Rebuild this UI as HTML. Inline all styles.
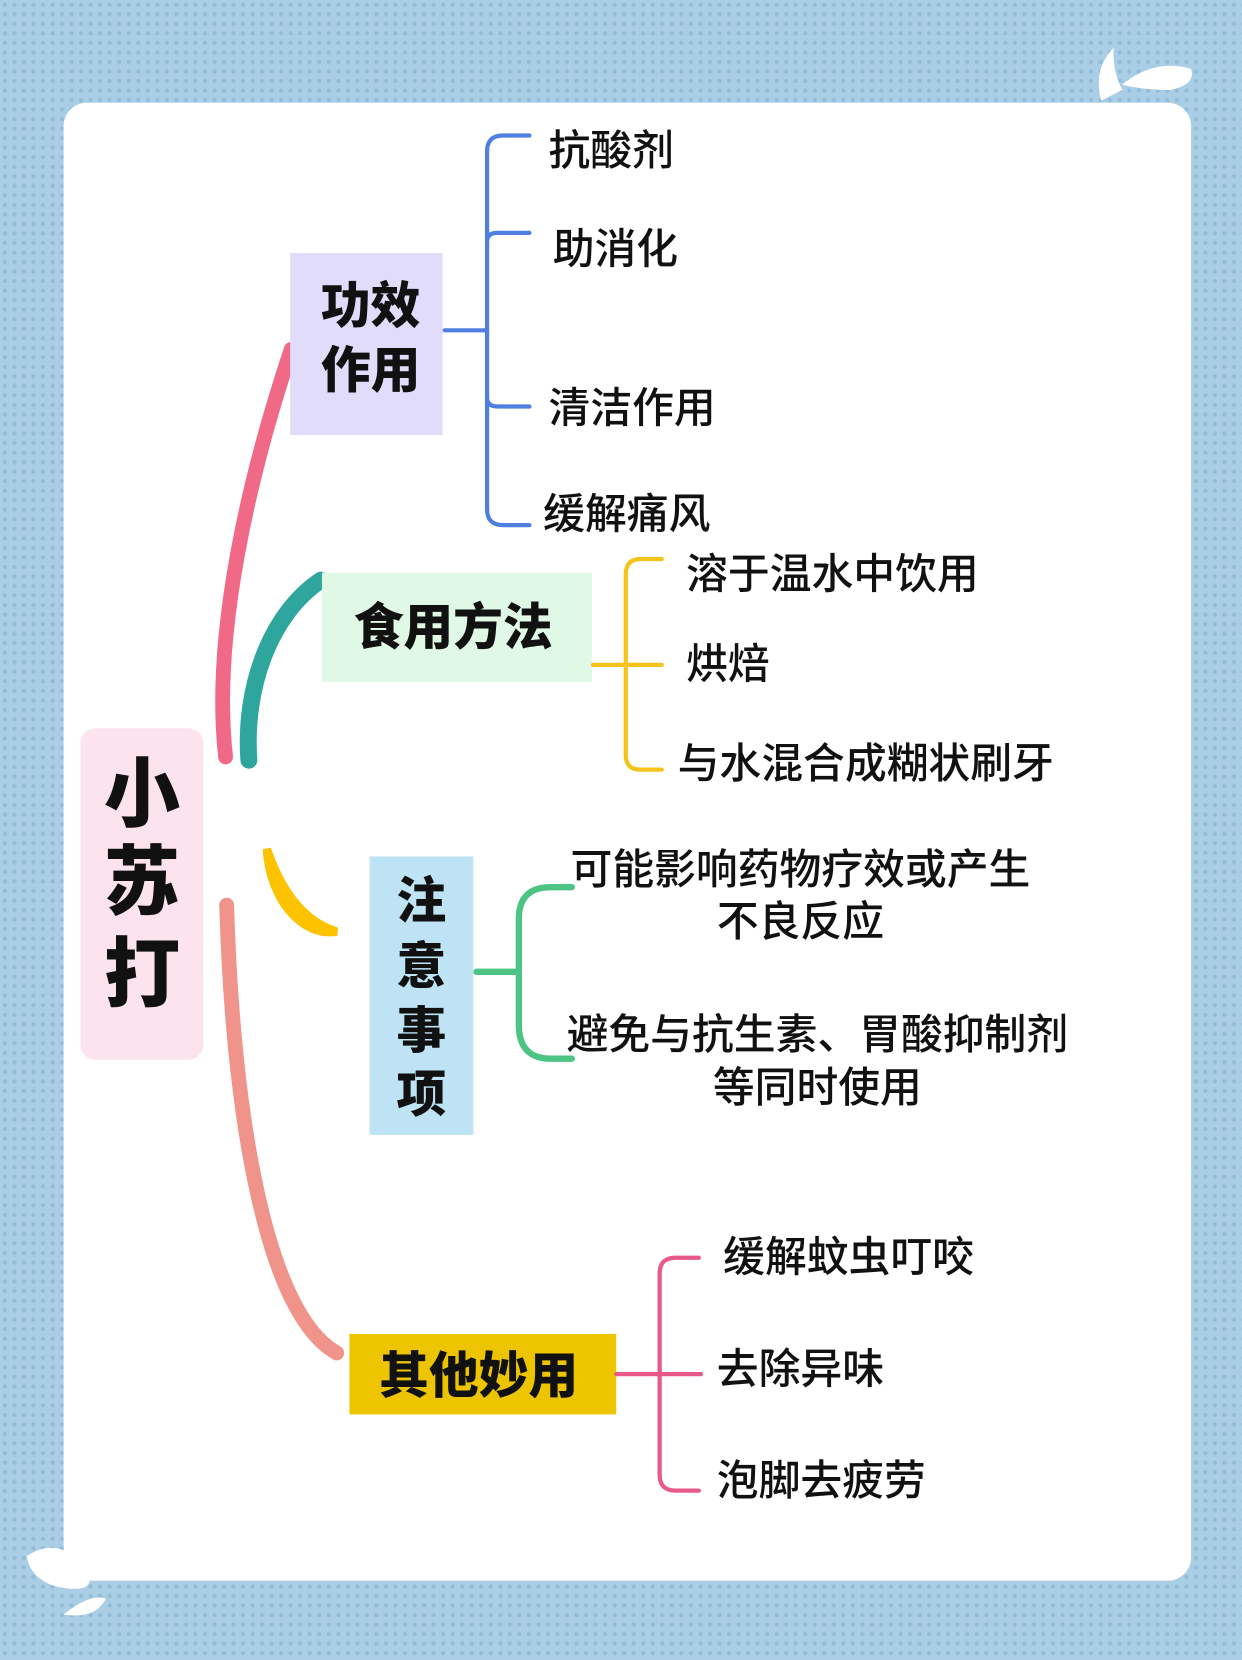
<!DOCTYPE html>
<html><head><meta charset="utf-8"><style>
html,body{margin:0;padding:0;width:1242px;height:1660px;overflow:hidden;background:#a8cde4}
svg{display:block}
text{font-family:"Liberation Sans","Noto Sans CJK SC",sans-serif;fill:#111}
.i{font-size:39.5px;font-weight:500}
.c{font-size:47px;font-weight:900}
</style></head><body>
<svg width="1242" height="1660" viewBox="0 0 1173 1568" xmlns="http://www.w3.org/2000/svg">
<defs><pattern id="d" width="9" height="9" patternUnits="userSpaceOnUse"><rect width="9" height="9" fill="#a9cee5"/><circle cx="4.5" cy="4.5" r="2" fill="#93bcd6"/></pattern></defs>
<rect width="1173" height="1568" fill="url(#d)"/>
<rect x="60" y="97" width="1065" height="1396" rx="22" fill="#fff"/>
<path d="M1040 95 q-8 -30 12 -50 q-2 20 8 40z" fill="#fff"/>
<path d="M1060 80 q30 -25 65 -15 q5 15 -20 20 q-25 0 -45 -5z" fill="#fff"/>
<path d="M25 1470 q30 -20 55 10 q15 25 -20 20 q-30 -5 -35 -30z" fill="#fff"/>
<path d="M60 1525 q25 -20 40 -15 q-10 20 -40 15z" fill="#fff"/>
<rect x="76" y="688" width="116" height="313" rx="14" fill="#fde3ee"/>
<text x="134" y="775" text-anchor="middle" style="font-size:72px;font-weight:900">小</text>
<text x="134" y="858" text-anchor="middle" style="font-size:72px;font-weight:900">苏</text>
<text x="134" y="945" text-anchor="middle" style="font-size:72px;font-weight:900">打</text>
<path d="M213 715 C200 600 235 450 275 330" stroke="#f06a87" stroke-width="14" fill="none" stroke-linecap="round"/>
<path d="M235 718 C230 650 255 580 303 548" stroke="#2ea59d" stroke-width="16" fill="none" stroke-linecap="round"/>
<path d="M252 802 C265 840 285 870 318 880 C285 885 255 850 252 802z" fill="#fdc200" stroke="#fdc200" stroke-width="8"/>
<path d="M214 855 C220 1050 250 1240 318 1278" stroke="#f0948b" stroke-width="14" fill="none" stroke-linecap="round"/>
<rect x="274" y="239" width="144" height="172" fill="#e2dcfb"/>
<text x="350" y="305" text-anchor="middle" class="c">功效</text>
<text x="350" y="366" text-anchor="middle" class="c">作用</text>
<rect x="304" y="541" width="255" height="103" fill="#e0f8e6"/>
<text x="428" y="609" text-anchor="middle" class="c">食用方法</text>
<rect x="349" y="809" width="98" height="263" fill="#bde3f5"/>
<text x="398" y="867" text-anchor="middle" class="c">注</text>
<text x="398" y="929" text-anchor="middle" class="c">意</text>
<text x="398" y="990" text-anchor="middle" class="c">事</text>
<text x="398" y="1050" text-anchor="middle" class="c">项</text>
<rect x="330" y="1260" width="252" height="76" fill="#ecc400"/>
<text x="452" y="1316" text-anchor="middle" class="c">其他妙用</text>
<g fill="none" stroke-width="4" stroke-linecap="round">
<path d="M420 312 h40 M500 128 h-25 q-15 0 -15 15 v338 q0 15 15 15 h25 M460 228 q0 -8 10 -8 h30 M460 376 q0 8 10 8 h30" stroke="#4f7fe0"/>
<path d="M560 628 h65 M625 528 h-20 q-14 0 -14 15 v170 q0 14 14 14 h20" stroke="#f6c31a"/>
<path d="M450 918 h40 M540 838 h-20 q-30 0 -30 30 v100 q0 32 30 32 h20" stroke="#4dc483" stroke-width="6"/>
<path d="M582 1298 h80 M660 1188 h-22 q-15 0 -15 15 v190 q0 15 15 15 h22" stroke="#e9588a"/>
</g>
<text x="518" y="156" class="i">抗酸剂</text>
<text x="522" y="249" class="i">助消化</text>
<text x="518" y="399" class="i">清洁作用</text>
<text x="513" y="499" class="i">缓解痛风</text>
<text x="648" y="556" class="i">溶于温水中饮用</text>
<text x="648" y="641" class="i">烘焙</text>
<text x="640" y="735" class="i">与水混合成糊状刷牙</text>
<text x="756" y="835" text-anchor="middle" class="i">可能影响药物疗效或产生</text>
<text x="756" y="884" text-anchor="middle" class="i">不良反应</text>
<text x="772" y="991" text-anchor="middle" class="i">避免与抗生素、胃酸抑制剂</text>
<text x="772" y="1041" text-anchor="middle" class="i">等同时使用</text>
<text x="683" y="1201" class="i">缓解蚊虫叮咬</text>
<text x="677" y="1307" class="i">去除异味</text>
<text x="677" y="1412" class="i">泡脚去疲劳</text>
</svg>
</body></html>
